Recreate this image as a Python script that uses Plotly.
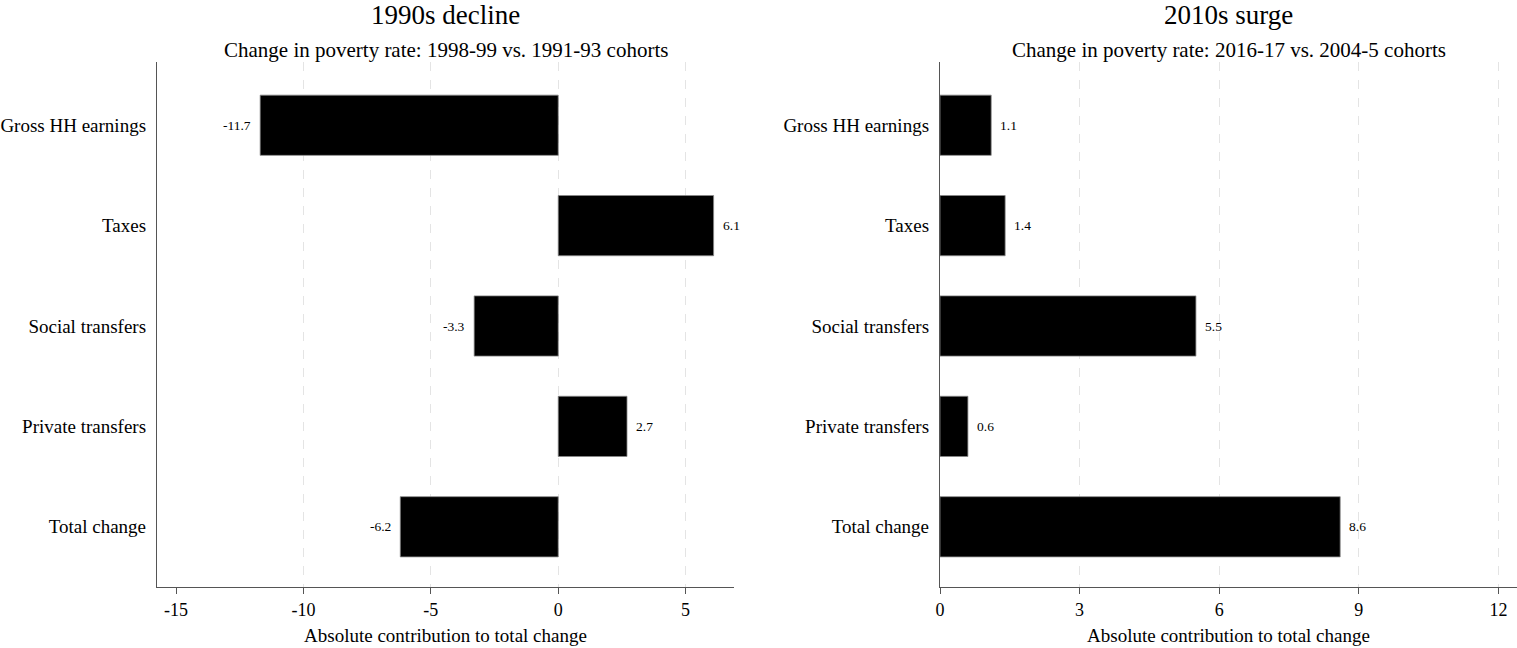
import plotly.graph_objects as go

categories = ["Gross HH earnings", "Taxes", "Social transfers", "Private transfers", "Total change"]
decline_1990s = [-11.7, 6.1, -3.3, 2.7, -6.2]
surge_2010s = [1.1, 1.4, 5.5, 0.6, 8.6]
left_ticks = [-15, -10, -5, 0, 5]
left_grid = [-10, -5, 0, 5]
right_ticks = [0, 3, 6, 9, 12]
right_grid = [3, 6, 9, 12]

FONT = "Liberation Serif"
fig = go.Figure()

for vals, xa, ya in [(decline_1990s, "x", "y"), (surge_2010s, "x2", "y2")]:
    fig.add_trace(go.Bar(
        x=vals, y=categories, orientation="h", width=0.6,
        marker=dict(color="black", line=dict(color="#888", width=0.8)),
        xaxis=xa, yaxis=ya, showlegend=False, hoverinfo="x+y"))
    for v, c in zip(vals, categories):
        fig.add_annotation(x=v, y=c, xref=xa, yref=ya, text=f"{v:.1f}", showarrow=False,
                           xanchor="left" if v >= 0 else "right",
                           xshift=7 if v >= 0 else -7,
                           font=dict(family=FONT, size=13.5, color="black"))

tickfont = dict(family=FONT, size=18, color="black")
def xax(domain, rng, ticks, anchor):
    return dict(domain=domain, range=rng, tickvals=ticks, ticktext=[str(t) for t in ticks],
                anchor=anchor, automargin=False, showline=True, linecolor="#555",
                linewidth=1.3, ticks="outside", ticklen=6, tickcolor="#555",
                showgrid=False, zeroline=False, tickfont=tickfont,
                title=dict(text="Absolute contribution to total change",
                           font=dict(family=FONT, size=19, color="black"), standoff=9))
def gax(domain, rng, grid, anchor, over):
    return dict(domain=domain, range=rng, tickvals=grid, showticklabels=False,
                anchor=anchor, overlaying=over, automargin=False, showline=False,
                ticks="", showgrid=True, gridcolor="#e4e4e4", griddash="dash",
                gridwidth=1.2, zeroline=False)
def yax(anchor):
    return dict(domain=[1-587/648, 1-62/648], anchor=anchor, automargin=False,
                showline=True, linecolor="#555", linewidth=1.3, ticks="",
                showgrid=False, zeroline=False, range=[4.6, -0.63],
                tickfont=dict(family=FONT, size=19, color="black"), ticklabelstandoff=6)

L = [157/1517, 734/1517]
R = [940/1517, 1.0]
fig.update_layout(
    width=1517, height=648,
    margin=dict(l=0, r=0, t=0, b=0),
    paper_bgcolor="white", plot_bgcolor="white",
    xaxis=xax(L, [-15.75, 6.9], left_ticks, "y"),
    yaxis=yax("x"),
    xaxis2=xax(R, [0, 12.4], right_ticks, "y2"),
    yaxis2=yax("x2"),
    xaxis3=gax(L, [-15.75, 6.9], left_grid, "y", "x"),
    xaxis4=gax(R, [0, 12.4], right_grid, "y2", "x2"),
)
fig.add_trace(go.Scatter(x=[None], y=[None], xaxis="x3", yaxis="y", showlegend=False))
fig.add_trace(go.Scatter(x=[None], y=[None], xaxis="x4", yaxis="y2", showlegend=False))

annots = [
    ("1990s decline", (157+734)/2/1517, 15, 27),
    ("Change in poverty rate: 1998-99 vs. 1991-93 cohorts", (157+734)/2/1517, 50, 21),
    ("2010s surge", (940+1517)/2/1517, 15, 27),
    ("Change in poverty rate: 2016-17 vs. 2004-5 cohorts", (940+1517)/2/1517, 50, 21),
]
for text, x, ypx, size in annots:
    fig.add_annotation(text=text, x=x, y=1-ypx/648, xref="paper", yref="paper",
                       showarrow=False, xanchor="center", yanchor="middle",
                       font=dict(family=FONT, size=size, color="black"))

fig.write_html("out.html", config={"displayModeBar": False})
with open("out.html", encoding="utf-8") as f:
    html = f.read()
html = html.replace("<head>", "<head><style>html,body{margin:0;padding:0;overflow:hidden;}</style>", 1)
with open("out.html", "w", encoding="utf-8") as f:
    f.write(html)
